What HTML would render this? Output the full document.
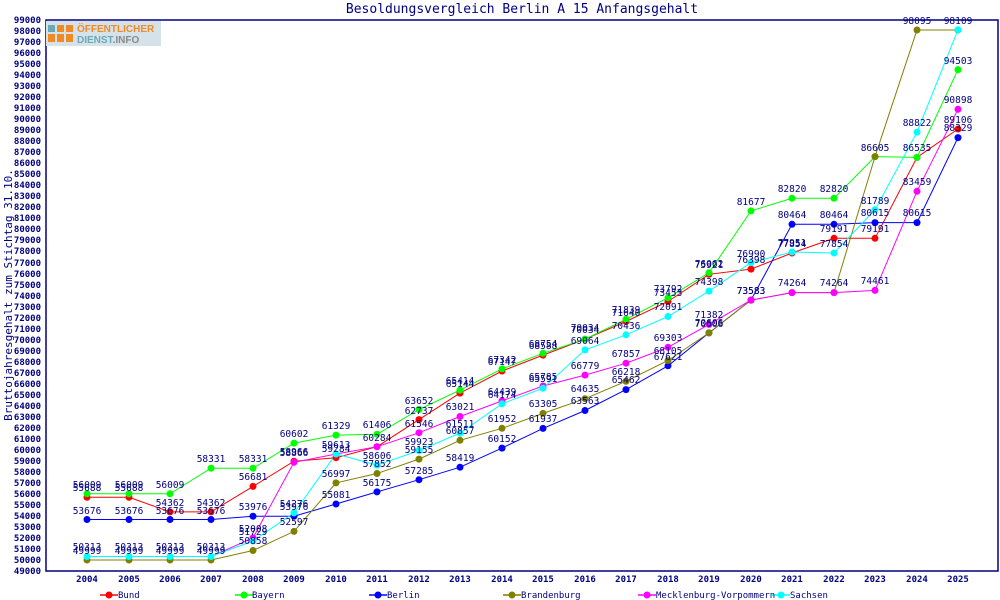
<!DOCTYPE html>
<html><head><meta charset="utf-8"><style>
body{margin:0;background:#fff}
svg{display:block}
text{font-family:"DejaVu Sans Mono","Liberation Mono",monospace;fill:#000080}
.v{font-size:9.5px;text-anchor:middle}
.t{font-size:9px;text-anchor:end;font-weight:bold}
.x{font-size:9px;text-anchor:middle;font-weight:bold}
.l{font-size:9px}
</style></head><body>
<svg width="1000" height="600" viewBox="0 0 1000 600" xmlns="http://www.w3.org/2000/svg">
<rect width="1000" height="600" fill="#fff"/>
<text x="522" y="13" style="font-size:13px;text-anchor:middle">Besoldungsvergleich Berlin A 15 Anfangsgehalt</text>
<text transform="translate(12,295) rotate(-90)" style="font-size:11px;text-anchor:middle">Bruttojahresgehalt zum Stichtag 31.10.</text>
<rect x="46" y="20" width="952" height="551" fill="none" stroke="#000080" stroke-width="1.5"/>
<!-- logo -->
<rect x="46" y="21" width="115" height="25" fill="#d6e2ea"/>
<rect x="48" y="25" width="7" height="7" fill="#6aaab8"/><rect x="57" y="25" width="7" height="7" fill="#f08a24"/><rect x="66" y="25" width="7" height="7" fill="#f08a24"/>
<rect x="48" y="34" width="7" height="8" fill="#f08a24"/><rect x="57" y="34" width="7" height="8" fill="#f08a24"/><rect x="66" y="34" width="7" height="8" fill="#f08a24"/>
<text x="77" y="32" style="font-family:'Liberation Sans',sans-serif;font-size:10px;font-weight:bold;fill:#f08a24">ÖFFENTLICHER</text>
<text x="77" y="43" style="font-family:'Liberation Sans',sans-serif;font-size:10px;font-weight:bold;fill:#6aaab8">DIENST<tspan style="fill:#888">.INFO</tspan></text>
<!-- y ticks -->
<g class="t">
<text x="41" y="23">99000</text><text x="41" y="34">98000</text><text x="41" y="45">97000</text><text x="41" y="56">96000</text><text x="41" y="67">95000</text><text x="41" y="78">94000</text><text x="41" y="89">93000</text><text x="41" y="100">92000</text><text x="41" y="111">91000</text><text x="41" y="122">90000</text>
<text x="41" y="133">89000</text><text x="41" y="144">88000</text><text x="41" y="155">87000</text><text x="41" y="166">86000</text><text x="41" y="177">85000</text><text x="41" y="188">84000</text><text x="41" y="199">83000</text><text x="41" y="210">82000</text><text x="41" y="221">81000</text><text x="41" y="232">80000</text>
<text x="41" y="243">79000</text><text x="41" y="254">78000</text><text x="41" y="266">77000</text><text x="41" y="277">76000</text><text x="41" y="288">75000</text><text x="41" y="299">74000</text><text x="41" y="310">73000</text><text x="41" y="321">72000</text><text x="41" y="332">71000</text><text x="41" y="343">70000</text>
<text x="41" y="354">69000</text><text x="41" y="365">68000</text><text x="41" y="376">67000</text><text x="41" y="387">66000</text><text x="41" y="398">65000</text><text x="41" y="409">64000</text><text x="41" y="420">63000</text><text x="41" y="431">62000</text><text x="41" y="442">61000</text><text x="41" y="453">60000</text>
<text x="41" y="464">59000</text><text x="41" y="475">58000</text><text x="41" y="486">57000</text><text x="41" y="497">56000</text><text x="41" y="508">55000</text><text x="41" y="519">54000</text><text x="41" y="530">53000</text><text x="41" y="541">52000</text><text x="41" y="552">51000</text><text x="41" y="563">50000</text><text x="41" y="574">49000</text>
</g>
<g class="x">
<text x="87" y="582">2004</text><text x="129" y="582">2005</text><text x="170" y="582">2006</text><text x="211" y="582">2007</text><text x="253" y="582">2008</text><text x="294" y="582">2009</text><text x="336" y="582">2010</text><text x="377" y="582">2011</text><text x="419" y="582">2012</text><text x="460" y="582">2013</text><text x="502" y="582">2014</text>
<text x="543" y="582">2015</text><text x="585" y="582">2016</text><text x="626" y="582">2017</text><text x="668" y="582">2018</text><text x="709" y="582">2019</text><text x="751" y="582">2020</text><text x="792" y="582">2021</text><text x="834" y="582">2022</text><text x="875" y="582">2023</text><text x="917" y="582">2024</text><text x="958" y="582">2025</text>
</g>
<g fill="none" stroke-width="1">
<polyline stroke="#ff0000" points="87,497.3 129,497.3 170,511.9 211,511.9 253,486.4 294,461.2 336,457.7 377,446.7 419,419.6 460,393.1 502,371 543,355.1 585,339.2 626,321.5 668,301.5 709,274.3 751,269.1 792,253 834,238.3 875,238.3 917,157.4 958,129"/>
<polyline stroke="#00ff00" points="87,493.8 129,493.8 170,493.8 211,468.2 253,468.2 294,443.1 336,435.1 377,434.3 419,409.5 460,390.1 502,368.9 543,353.3 585,339.2 626,319.3 668,297.8 709,272.8 751,210.9 792,198.3 834,198.3 875,156.6 917,157.4 958,69.6"/>
<polyline stroke="#0000ff" points="87,519.5 129,519.5 170,519.5 211,519.5 253,516.2 294,516.2 336,504 377,491.9 419,479.7 460,467.2 502,448.1 543,428.4 585,410.5 626,389.6 668,365.8 709,332.9 751,300.1 792,224.3 834,224.3 875,222.6 917,222.6 958,137.6"/>
<polyline stroke="#808000" points="87,560 129,560 170,560 211,560 253,550.5 294,531.4 336,482.9 377,473.5 419,459.1 460,440.3 502,428.3 543,413.4 585,398.7 626,381.3 668,360.5 709,332.9 751,300.1 792,292.6 834,292.6 875,156.6 917,30 958,30"/>
<polyline stroke="#ff00ff" points="87,556.5 129,556.5 170,556.5 211,556.5 253,537.9 294,462.3 336,454 377,446.7 419,432.7 460,416.5 502,400.9 543,386 585,375.1 626,363.2 668,347.3 709,324.4 751,300.1 792,292.6 834,292.6 875,290.4 917,191.3 958,109.3"/>
<polyline stroke="#00ffff" points="87,556.5 129,556.5 170,556.5 211,556.5 253,540.9 294,512.9 336,454 377,465.1 419,450.6 460,433.1 502,403.8 543,388.2 585,349.9 626,334.8 668,316.5 709,291.1 751,262.6 792,252 834,253 875,209.7 917,132.2 958,29.8"/>
</g>
<g stroke="none">
<g fill="#ff0000"><circle cx="87" cy="497.3" r="3.5"/><circle cx="129" cy="497.3" r="3.5"/><circle cx="170" cy="511.9" r="3.5"/><circle cx="211" cy="511.9" r="3.5"/><circle cx="253" cy="486.4" r="3.5"/><circle cx="294" cy="461.2" r="3.5"/><circle cx="336" cy="457.7" r="3.5"/><circle cx="377" cy="446.7" r="3.5"/><circle cx="419" cy="419.6" r="3.5"/><circle cx="460" cy="393.1" r="3.5"/><circle cx="502" cy="371" r="3.5"/><circle cx="543" cy="355.1" r="3.5"/><circle cx="585" cy="339.2" r="3.5"/><circle cx="626" cy="321.5" r="3.5"/><circle cx="668" cy="301.5" r="3.5"/><circle cx="709" cy="274.3" r="3.5"/><circle cx="751" cy="269.1" r="3.5"/><circle cx="792" cy="253" r="3.5"/><circle cx="834" cy="238.3" r="3.5"/><circle cx="875" cy="238.3" r="3.5"/><circle cx="917" cy="157.4" r="3.5"/><circle cx="958" cy="129" r="3.5"/></g>
<g fill="#00ff00"><circle cx="87" cy="493.8" r="3.5"/><circle cx="129" cy="493.8" r="3.5"/><circle cx="170" cy="493.8" r="3.5"/><circle cx="211" cy="468.2" r="3.5"/><circle cx="253" cy="468.2" r="3.5"/><circle cx="294" cy="443.1" r="3.5"/><circle cx="336" cy="435.1" r="3.5"/><circle cx="377" cy="434.3" r="3.5"/><circle cx="419" cy="409.5" r="3.5"/><circle cx="460" cy="390.1" r="3.5"/><circle cx="502" cy="368.9" r="3.5"/><circle cx="543" cy="353.3" r="3.5"/><circle cx="585" cy="339.2" r="3.5"/><circle cx="626" cy="319.3" r="3.5"/><circle cx="668" cy="297.8" r="3.5"/><circle cx="709" cy="272.8" r="3.5"/><circle cx="751" cy="210.9" r="3.5"/><circle cx="792" cy="198.3" r="3.5"/><circle cx="834" cy="198.3" r="3.5"/><circle cx="875" cy="156.6" r="3.5"/><circle cx="917" cy="157.4" r="3.5"/><circle cx="958" cy="69.6" r="3.5"/></g>
<g fill="#0000ff"><circle cx="87" cy="519.5" r="3.5"/><circle cx="129" cy="519.5" r="3.5"/><circle cx="170" cy="519.5" r="3.5"/><circle cx="211" cy="519.5" r="3.5"/><circle cx="253" cy="516.2" r="3.5"/><circle cx="294" cy="516.2" r="3.5"/><circle cx="336" cy="504" r="3.5"/><circle cx="377" cy="491.9" r="3.5"/><circle cx="419" cy="479.7" r="3.5"/><circle cx="460" cy="467.2" r="3.5"/><circle cx="502" cy="448.1" r="3.5"/><circle cx="543" cy="428.4" r="3.5"/><circle cx="585" cy="410.5" r="3.5"/><circle cx="626" cy="389.6" r="3.5"/><circle cx="668" cy="365.8" r="3.5"/><circle cx="709" cy="332.9" r="3.5"/><circle cx="751" cy="300.1" r="3.5"/><circle cx="792" cy="224.3" r="3.5"/><circle cx="834" cy="224.3" r="3.5"/><circle cx="875" cy="222.6" r="3.5"/><circle cx="917" cy="222.6" r="3.5"/><circle cx="958" cy="137.6" r="3.5"/></g>
<g fill="#808000"><circle cx="87" cy="560" r="3.5"/><circle cx="129" cy="560" r="3.5"/><circle cx="170" cy="560" r="3.5"/><circle cx="211" cy="560" r="3.5"/><circle cx="253" cy="550.5" r="3.5"/><circle cx="294" cy="531.4" r="3.5"/><circle cx="336" cy="482.9" r="3.5"/><circle cx="377" cy="473.5" r="3.5"/><circle cx="419" cy="459.1" r="3.5"/><circle cx="460" cy="440.3" r="3.5"/><circle cx="502" cy="428.3" r="3.5"/><circle cx="543" cy="413.4" r="3.5"/><circle cx="585" cy="398.7" r="3.5"/><circle cx="626" cy="381.3" r="3.5"/><circle cx="668" cy="360.5" r="3.5"/><circle cx="709" cy="332.9" r="3.5"/><circle cx="751" cy="300.1" r="3.5"/><circle cx="792" cy="292.6" r="3.5"/><circle cx="834" cy="292.6" r="3.5"/><circle cx="875" cy="156.6" r="3.5"/><circle cx="917" cy="30" r="3.5"/><circle cx="958" cy="30" r="3.5"/></g>
<g fill="#ff00ff"><circle cx="253" cy="537.9" r="3.5"/><circle cx="294" cy="462.3" r="3.5"/><circle cx="336" cy="454" r="3.5"/><circle cx="377" cy="446.7" r="3.5"/><circle cx="419" cy="432.7" r="3.5"/><circle cx="460" cy="416.5" r="3.5"/><circle cx="502" cy="400.9" r="3.5"/><circle cx="543" cy="386" r="3.5"/><circle cx="585" cy="375.1" r="3.5"/><circle cx="626" cy="363.2" r="3.5"/><circle cx="668" cy="347.3" r="3.5"/><circle cx="709" cy="324.4" r="3.5"/><circle cx="751" cy="300.1" r="3.5"/><circle cx="792" cy="292.6" r="3.5"/><circle cx="834" cy="292.6" r="3.5"/><circle cx="875" cy="290.4" r="3.5"/><circle cx="917" cy="191.3" r="3.5"/><circle cx="958" cy="109.3" r="3.5"/></g>
<g fill="#00ffff"><circle cx="87" cy="556.5" r="3.5"/><circle cx="129" cy="556.5" r="3.5"/><circle cx="170" cy="556.5" r="3.5"/><circle cx="211" cy="556.5" r="3.5"/><circle cx="253" cy="540.9" r="3.5"/><circle cx="294" cy="512.9" r="3.5"/><circle cx="336" cy="454" r="3.5"/><circle cx="377" cy="465.1" r="3.5"/><circle cx="419" cy="450.6" r="3.5"/><circle cx="460" cy="433.1" r="3.5"/><circle cx="502" cy="403.8" r="3.5"/><circle cx="543" cy="388.2" r="3.5"/><circle cx="585" cy="349.9" r="3.5"/><circle cx="626" cy="334.8" r="3.5"/><circle cx="668" cy="316.5" r="3.5"/><circle cx="709" cy="291.1" r="3.5"/><circle cx="751" cy="262.6" r="3.5"/><circle cx="792" cy="252" r="3.5"/><circle cx="834" cy="253" r="3.5"/><circle cx="875" cy="209.7" r="3.5"/><circle cx="917" cy="132.2" r="3.5"/><circle cx="958" cy="29.8" r="3.5"/></g>
</g>
<g class="v">
<text x="87" y="491">55688</text><text x="129" y="491">55688</text><text x="170" y="506">54362</text><text x="211" y="506">54362</text><text x="253" y="480">56681</text><text x="294" y="455">58966</text><text x="336" y="452">59284</text><text x="377" y="441">60284</text><text x="419" y="414">62737</text><text x="460" y="387">65144</text><text x="502" y="365">67147</text><text x="543" y="349">68588</text><text x="585" y="333">70034</text><text x="626" y="316">71640</text><text x="668" y="296">73453</text><text x="709" y="268">75921</text><text x="751" y="263">76398</text><text x="792" y="247">77854</text><text x="834" y="232">79191</text><text x="875" y="232">79191</text><text x="917" y="151">86535</text><text x="958" y="123">89106</text>
<text x="87" y="488">56009</text><text x="129" y="488">56009</text><text x="170" y="488">56009</text><text x="211" y="462">58331</text><text x="253" y="462">58331</text><text x="294" y="437">60602</text><text x="336" y="429">61329</text><text x="377" y="428">61406</text><text x="419" y="404">63652</text><text x="460" y="384">65414</text><text x="502" y="363">67342</text><text x="543" y="347">68754</text><text x="585" y="331">70034</text><text x="626" y="313">71839</text><text x="668" y="292">73792</text><text x="709" y="267">76062</text><text x="751" y="205">81677</text><text x="792" y="192">82820</text><text x="834" y="192">82820</text><text x="875" y="151">86605</text><text x="958" y="64">94503</text>
<text x="87" y="514">53676</text><text x="129" y="514">53676</text><text x="170" y="514">53676</text><text x="211" y="514">53676</text><text x="253" y="510">53976</text><text x="294" y="510">53976</text><text x="336" y="498">55081</text><text x="377" y="486">56175</text><text x="419" y="474">57285</text><text x="460" y="461">58419</text><text x="502" y="442">60152</text><text x="543" y="422">61937</text><text x="585" y="404">63563</text><text x="626" y="383">65462</text><text x="668" y="360">67621</text><text x="709" y="327">70606</text><text x="751" y="294">73583</text><text x="792" y="218">80464</text><text x="834" y="218">80464</text><text x="875" y="216">80615</text><text x="917" y="216">80615</text><text x="958" y="131">88329</text>
<text x="87" y="554">49999</text><text x="129" y="554">49999</text><text x="170" y="554">49999</text><text x="211" y="554">49999</text><text x="253" y="544">50858</text><text x="294" y="525">52597</text><text x="336" y="477">56997</text><text x="377" y="467">57852</text><text x="419" y="453">59155</text><text x="460" y="434">60857</text><text x="502" y="422">61952</text><text x="543" y="407">63305</text><text x="585" y="392">64635</text><text x="626" y="375">66218</text><text x="668" y="354">68105</text><text x="709" y="326">70606</text><text x="792" y="286">74264</text><text x="834" y="286">74264</text><text x="917" y="24">98095</text>
<text x="87" y="550">50313</text><text x="129" y="550">50313</text><text x="170" y="550">50313</text><text x="211" y="550">50313</text><text x="253" y="532">52008</text><text x="294" y="456">58866</text><text x="336" y="448">59613</text><text x="419" y="427">61546</text><text x="460" y="410">63021</text><text x="502" y="395">64439</text><text x="543" y="380">65785</text><text x="585" y="369">66779</text><text x="626" y="357">67857</text><text x="668" y="341">69303</text><text x="709" y="318">71382</text><text x="751" y="294">73583</text><text x="875" y="284">74461</text><text x="917" y="185">83459</text><text x="958" y="103">90898</text>
<text x="253" y="535">51729</text><text x="294" y="507">54276</text><text x="377" y="459">58606</text><text x="419" y="445">59923</text><text x="460" y="427">61511</text><text x="502" y="398">64174</text><text x="543" y="382">65591</text><text x="585" y="344">69064</text><text x="626" y="329">70436</text><text x="668" y="310">72091</text><text x="709" y="285">74398</text><text x="751" y="257">76990</text><text x="792" y="246">77951</text><text x="834" y="247">77854</text><text x="875" y="204">81789</text><text x="917" y="126">88822</text><text x="958" y="24">98109</text>
</g>
<!-- legend -->
<g stroke-width="1.5">
<line x1="100" y1="595" x2="118" y2="595" stroke="#ff0000"/><circle cx="109" cy="595" r="3.5" fill="#ff0000"/>
<line x1="235" y1="595" x2="253" y2="595" stroke="#00ff00"/><circle cx="244" cy="595" r="3.5" fill="#00ff00"/>
<line x1="369" y1="595" x2="387" y2="595" stroke="#0000ff"/><circle cx="378" cy="595" r="3.5" fill="#0000ff"/>
<line x1="503" y1="595" x2="521" y2="595" stroke="#808000"/><circle cx="512" cy="595" r="3.5" fill="#808000"/>
<line x1="638" y1="595" x2="656" y2="595" stroke="#ff00ff"/><circle cx="647" cy="595" r="3.5" fill="#ff00ff"/>
<line x1="772" y1="595" x2="790" y2="595" stroke="#00ffff"/><circle cx="781" cy="595" r="3.5" fill="#00ffff"/>
</g>
<g class="l">
<text x="118" y="598">Bund</text><text x="252" y="598">Bayern</text><text x="387" y="598">Berlin</text><text x="521" y="598">Brandenburg</text><text x="656" y="598">Mecklenburg-Vorpommern</text><text x="790" y="598">Sachsen</text>
</g>
</svg>
</body></html>
